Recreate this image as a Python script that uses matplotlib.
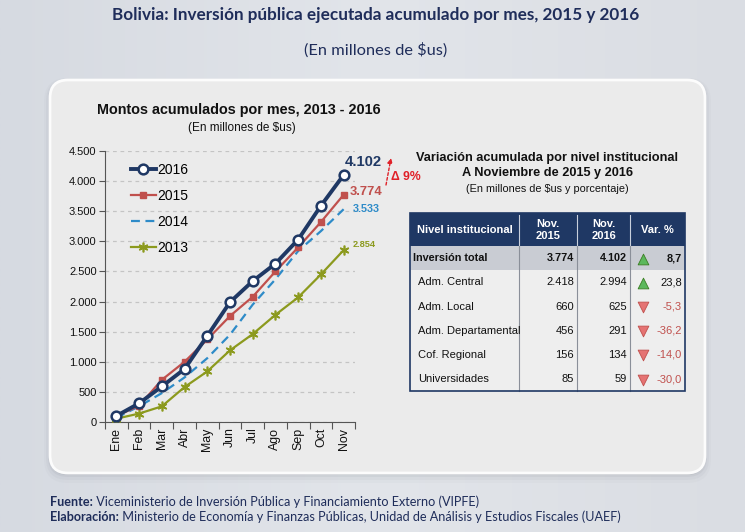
import numpy as np
import matplotlib
matplotlib.use('Agg')
import matplotlib.pyplot as plt
from matplotlib.patches import FancyBboxPatch, Rectangle
from matplotlib.lines import Line2D
from matplotlib.colors import LinearSegmentedColormap

# data
months = ['Ene', 'Feb', 'Mar', 'Abr', 'May', 'Jun', 'Jul', 'Ago', 'Sep', 'Oct', 'Nov']
v2016 = [100, 310, 590, 880, 1430, 1990, 2340, 2630, 3030, 3590, 4102]
v2015 = [100, 270, 700, 1000, 1370, 1760, 2080, 2500, 2900, 3320, 3774]
v2014 = [70, 260, 480, 740, 1060, 1450, 1950, 2370, 2840, 3170, 3533]
v2013 = [55, 140, 260, 580, 840, 1190, 1460, 1780, 2070, 2450, 2854]
yticks = list(range(0, 4501, 500))

niveles = ['Inversión total', 'Adm. Central', 'Adm. Local', 'Adm. Departamental',
           'Cof. Regional', 'Universidades']
nov2015 = [3774, 2418, 660, 456, 156, 85]
nov2016 = [4102, 2994, 625, 291, 134, 59]
var_pct = [8.7, 23.8, -5.3, -36.2, -14.0, -30.0]
headers = ['Nivel institucional', 'Nov.\n2015', 'Nov.\n2016', 'Var. %']


def miles(v):
    return f"{v:,}".replace(',', '.')


def pct(v):
    return f"{v:.1f}".replace('.', ',')


W, H = 745, 532
NAVY = '#1f3864'
ARIAL = ['Liberation Sans', 'DejaVu Sans']
CAL = ['Lato', 'DejaVu Sans']

fig = plt.figure(figsize=(W / 100, H / 100), dpi=100)

# background layer in pixel coordinates
bg = fig.add_axes([0, 0, 1, 1], zorder=0)
bg.set_xlim(0, W)
bg.set_ylim(H, 0)
bg.axis('off')
cmap = LinearSegmentedColormap.from_list('bgc', ['#d6dae1', '#e2e5ea', '#dadde3'])
grad = np.linspace(0, 1, 256).reshape(1, -1)
bg.imshow(grad, cmap=cmap, extent=(0, W, H, 0), aspect='auto', zorder=0)

# panel with soft shadow
for grow, dy, a in [(6, 4, 0.035), (4, 3, 0.05), (2, 2, 0.08), (0.5, 1.5, 0.12)]:
    bg.add_patch(FancyBboxPatch((50 - grow, 80 - grow + dy), 655 + 2 * grow, 393 + 2 * grow,
                                boxstyle='round,pad=0,rounding_size=%g' % (18 + grow),
                                fc='#6f747d', ec='none', alpha=a, zorder=1))
bg.add_patch(FancyBboxPatch((50, 80), 655, 393, boxstyle='round,pad=0,rounding_size=18',
                            fc='#ebebeb', ec='#fcfcfc', lw=2, zorder=2))

# titles
bg.text(376, 15, 'Bolivia: Inversión pública ejecutada acumulado por mes, 2015 y 2016',
        ha='center', va='center', fontsize=12.3, fontweight='bold', color='#1f2d5a',
        family=CAL, zorder=3)
bg.text(376, 50, '(En millones de $us)', ha='center', va='center', fontsize=11.8,
        color='#1f2d5a', family=CAL, zorder=3)

bg.text(239, 110, 'Montos acumulados por mes, 2013 - 2016', ha='center', va='center',
        fontsize=10.4, fontweight='bold', color='#111111', family=ARIAL, zorder=3)
bg.text(242, 128, '(En millones de $us)', ha='center', va='center', fontsize=8.5,
        color='#111111', family=ARIAL, zorder=3)

# line chart
ax = fig.add_axes([105 / W, 1 - 422 / H, 250 / W, 271 / H], zorder=2)
ax.patch.set_alpha(0)
x = np.arange(len(months))
ax.plot(x, v2014, color='#2e8bc8', lw=1.6, ls=(0, (4, 2.5)), zorder=3)
ax.plot(x, v2013, color='#8c9a1e', lw=1.6, marker=(6, 2, 0), ms=7, mew=1.2, zorder=3)
ax.plot(x, v2015, color='#c0504d', lw=1.6, marker='s', ms=5, zorder=4)
ax.plot(x, v2016, color=NAVY, lw=2.8, marker='o', ms=7, mfc='white', mew=1.8, zorder=5)
ax.set_xlim(-0.5, len(months) - 0.5)
ax.set_ylim(0, 4500)
ax.set_yticks(yticks)
ax.set_yticklabels([miles(v) for v in yticks], fontsize=8, family=ARIAL, color='#111111')
ax.set_xticks(x)
ax.set_xticklabels(months, rotation=90, fontsize=8.9, family=ARIAL, color='#111111')
ax.set_xticks(np.arange(-0.5, len(months), 1), minor=True)
ax.tick_params(axis='x', which='major', length=0, pad=4)
ax.tick_params(axis='x', which='minor', length=5, width=0.8, color='#555555')
ax.tick_params(axis='y', length=4, width=0.8, color='#555555', pad=2)
ax.yaxis.grid(True, ls=(0, (3, 3)), color='#c4c4c4', lw=0.9)
ax.set_axisbelow(True)
for s in ['top', 'right']:
    ax.spines[s].set_visible(False)
for s in ['left', 'bottom']:
    ax.spines[s].set_color('#555555')
    ax.spines[s].set_linewidth(0.8)

handles = [
    Line2D([], [], color=NAVY, lw=2.8, marker='o', ms=7, mfc='white', mew=1.8),
    Line2D([], [], color='#c0504d', lw=1.6, marker='s', ms=5),
    Line2D([], [], color='#2e8bc8', lw=1.6, ls=(0, (4, 2.5))),
    Line2D([], [], color='#8c9a1e', lw=1.6, marker=(6, 2, 0), ms=7, mew=1.2),
]
leg = ax.legend(handles, ['2016', '2015', '2014', '2013'], loc='upper left',
                bbox_to_anchor=(0.105, 0.955), frameon=False, borderaxespad=0, borderpad=0,
                handlelength=1.75, handletextpad=0.1, labelspacing=0.85,
                prop={'family': ARIAL, 'size': 10})

# end labels
last = len(months) - 1
ax.annotate(miles(v2016[-1]), (last, v2016[-1]), xytext=(14.5, 9), textcoords='offset points',
            ha='center', va='center', fontsize=10.7, fontweight='bold', color=NAVY, family=ARIAL)
ax.annotate(miles(v2015[-1]), (last, v2015[-1]), xytext=(16, 2), textcoords='offset points',
            ha='center', va='center', fontsize=9.4, fontweight='bold', color='#c0504d', family=ARIAL)
ax.annotate(miles(v2014[-1]), (last, v2014[-1]), xytext=(16.5, 0), textcoords='offset points',
            ha='center', va='center', fontsize=7.8, fontweight='bold', color='#2e8bc8', family=ARIAL)
ax.annotate(miles(v2013[-1]), (last, v2013[-1]), xytext=(15, 4), textcoords='offset points',
            ha='center', va='center', fontsize=6.6, fontweight='bold', color='#8c9a1e', family=ARIAL)

# variation arrow
bg.annotate('', xy=(391, 158), xytext=(386, 185),
            arrowprops=dict(arrowstyle='-|>', color='#e02028', lw=1.0, ls=(0, (2, 1.5)),
                            mutation_scale=7, shrinkA=0, shrinkB=0), zorder=4)
bg.text(406, 177, 'Δ 9%', ha='center', va='center', fontsize=8.8, fontweight='bold',
        color='#e02028', family=ARIAL, zorder=4)

# table titles
bg.text(547, 158, 'Variación acumulada por nivel institucional', ha='center', va='center',
        fontsize=9.2, fontweight='bold', color='#111111', family=ARIAL, zorder=3)
bg.text(547, 173, 'A Noviembre de 2015 y 2016', ha='center', va='center',
        fontsize=9.2, fontweight='bold', color='#111111', family=ARIAL, zorder=3)
bg.text(547, 189, '(En millones de $us y porcentaje)', ha='center', va='center',
        fontsize=7.8, color='#111111', family=ARIAL, zorder=3)

# table
cols = [410, 519, 577, 630, 685]
top, head_bot, row_h = 213, 246, 24.2
n = len(niveles)
bottom = head_bot + row_h * n
bg.add_patch(Rectangle((cols[0], head_bot), cols[-1] - cols[0], row_h * n,
                       fc='#eeeeee', ec='none', zorder=3))
bg.add_patch(Rectangle((cols[0], top), cols[-1] - cols[0], head_bot - top,
                       fc=NAVY, ec='none', zorder=3))
bg.add_patch(Rectangle((cols[0], head_bot), cols[-1] - cols[0], row_h,
                       fc='#c9ccd3', ec='none', zorder=3))
for cx in cols[1:-1]:
    bg.plot([cx, cx], [top + 2, head_bot], color='#c8cfdc', lw=0.8, zorder=4)
    bg.plot([cx, cx], [head_bot, bottom], color='#8a8f99', lw=0.8, zorder=4)
bg.add_patch(Rectangle((cols[0], top), cols[-1] - cols[0], bottom - top,
                       fc='none', ec=NAVY, lw=1.2, zorder=5))

for j, h in enumerate(headers):
    bg.text((cols[j] + cols[j + 1]) / 2, (top + head_bot) / 2 + 0.5, h, ha='center',
            va='center', fontsize=8, fontweight='bold', color='white', family=ARIAL,
            linespacing=1.2, zorder=5)

for i, name in enumerate(niveles):
    yc = head_bot + row_h * (i + 0.5)
    bold = 'bold' if i == 0 else 'normal'
    fs = 7.8 if i == 0 else 8
    bg.text(cols[0] + (3 if i == 0 else 8), yc, name, ha='left', va='center', fontsize=fs,
            fontweight=bold, color='#111111', family=ARIAL, zorder=5)
    bg.text(cols[2] - 3, yc, miles(nov2015[i]), ha='right', va='center', fontsize=fs,
            fontweight=bold, color='#111111', family=ARIAL, zorder=5)
    bg.text(cols[3] - 3, yc, miles(nov2016[i]), ha='right', va='center', fontsize=fs,
            fontweight=bold, color='#111111', family=ARIAL, zorder=5)
    neg = var_pct[i] < 0
    bg.text(cols[4] - 3, yc, pct(var_pct[i]), ha='right', va='center', fontsize=fs,
            fontweight=bold, color='#c0504d' if neg else '#111111', family=ARIAL, zorder=5)
    if neg:
        bg.scatter([643], [yc + 0.5], marker='v', s=60, c='#e57373', edgecolors='#c0504d',
                   linewidths=0.6, zorder=6)
    else:
        bg.scatter([643], [yc + 1], marker='^', s=60, c='#5cb85c', edgecolors='#3b7d23',
                   linewidths=0.6, zorder=6)

# footer
fig.canvas.draw()
rend = fig.canvas.get_renderer()
for yy, lab, rest in [(502, 'Fuente:', ' Viceministerio de Inversión Pública y Financiamiento Externo (VIPFE)'),
                      (517, 'Elaboración:', ' Ministerio de Economía y Finanzas Públicas, Unidad de Análisis y Estudios Fiscales (UAEF)')]:
    t = bg.text(50, yy, lab, ha='left', va='center', fontsize=9.1, fontweight='bold',
                color='#1f2d5a', family=CAL, zorder=3)
    bb = t.get_window_extent(rend)
    x1 = bg.transData.inverted().transform((bb.x1, bb.y0))[0]
    bg.text(x1, yy, rest, ha='left', va='center', fontsize=9.1, color='#1f2d5a',
            family=CAL, zorder=3)

fig.savefig('out.png', dpi=100)
